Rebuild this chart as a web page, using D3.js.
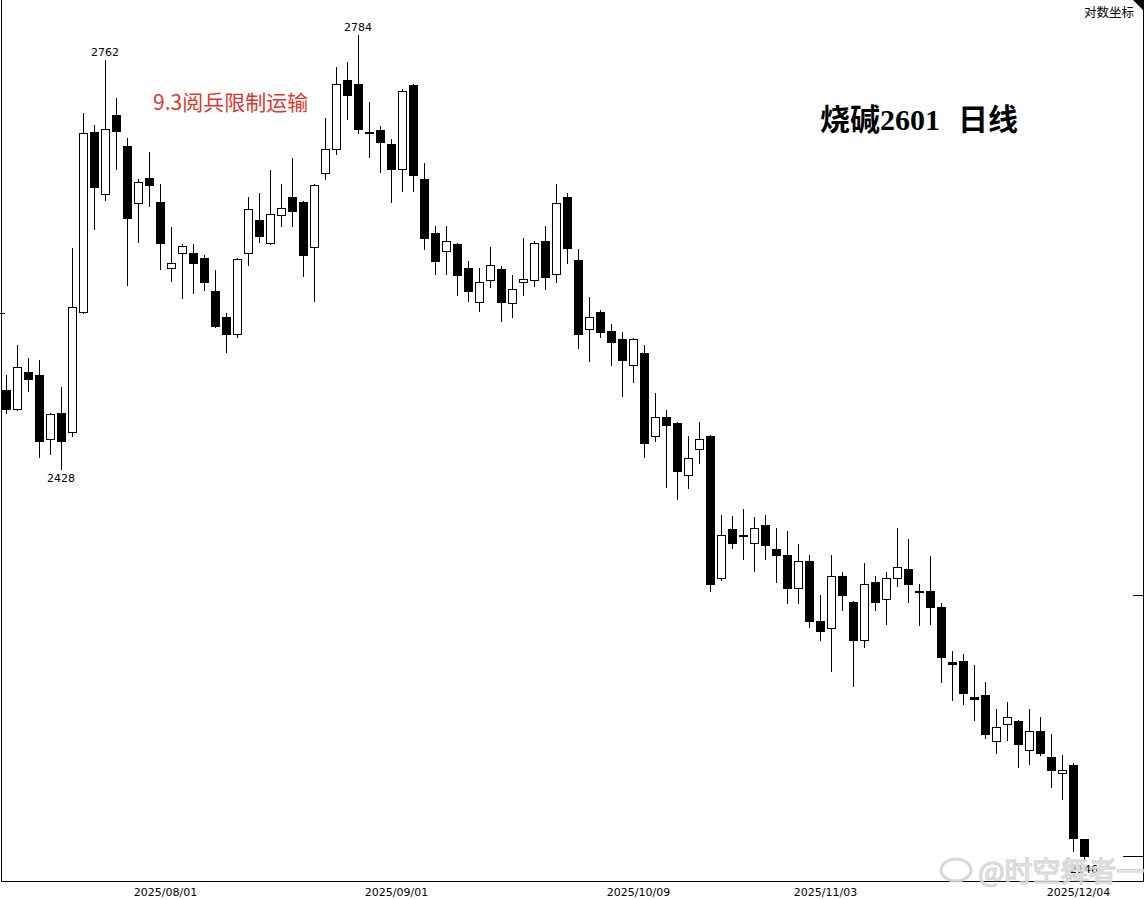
<!DOCTYPE html>
<html>
<head>
<meta charset="utf-8">
<script src="https://cdn.jsdelivr.net/npm/d3@7/dist/d3.min.js"></script>
<style>
  html, body { margin: 0; padding: 0; background: #fff; }
  svg { display: block; }
</style>
</head>
<body>
<div id="chart"></div>
<script>
// ---- data ----
const openP  = [2489,2474,2503,2501,2451,2471,2456,2551,2700,2648,2715,2688,2640,2661,2641,2587,2599,2599,2595,2568,
                2547,2533,2599,2626,2607,2630,2645,2641,2604,2665,2686,2745,2741,2700,2702,2690,2669,2740,2660,2615,
                2601,2606,2587,2559,2577,2586,2558,2575,2577,2609,2582,2645,2593,2537,2551,2536,2529,2509,2518,2453,
                2468,2463,2423,2443,2453,2346,2382,2378,2372,2385,2367,2363,2338,2358,2314,2309,2347,2328,2300,2343,
                2330,2346,2352,2336,2336,2324,2284,2285,2259,2261,2228,2240,2242,2222,2235,2217,2206,2211,2160];
const highP  = [2501,2525,2514,2513,2471,2491,2603,2716,2706,2762,2729,2695,2660,2683,2656,2620,2606,2606,2597,2585,
                2550,2595,2645,2649,2668,2656,2678,2642,2656,2712,2756,2760,2784,2726,2705,2694,2737,2741,2674,2621,
                2621,2607,2592,2587,2604,2588,2581,2611,2609,2621,2656,2649,2602,2563,2553,2541,2535,2530,2525,2487,
                2473,2464,2453,2464,2454,2393,2392,2397,2391,2393,2383,2381,2371,2363,2333,2363,2350,2329,2357,2347,
                2350,2383,2375,2341,2362,2327,2292,2290,2282,2270,2251,2256,2243,2251,2245,2233,2218,2213,2160];
const lowP   = [2471,2473,2488,2437,2439,2428,2453,2550,2619,2643,2669,2573,2608,2638,2586,2576,2562,2566,2569,2539,
                2519,2531,2589,2608,2606,2621,2621,2580,2560,2660,2681,2711,2699,2679,2666,2641,2650,2650,2602,2582,
                2582,2565,2560,2552,2571,2544,2547,2565,2572,2570,2575,2591,2522,2512,2531,2509,2484,2495,2437,2449,
                2414,2405,2413,2432,2336,2344,2368,2360,2351,2360,2343,2327,2327,2310,2300,2278,2322,2267,2295,2322,
                2312,2340,2328,2311,2312,2270,2257,2254,2243,2230,2220,2229,2210,2212,2218,2196,2188,2152,2146];
const closeP = [2474,2507,2498,2449,2470,2449,2555,2699,2654,2703,2701,2628,2658,2655,2607,2591,2605,2591,2575,2540,
                2533,2594,2635,2613,2631,2636,2634,2597,2655,2686,2741,2732,2703,2699,2692,2669,2735,2664,2611,2592,
                2609,2581,2568,2575,2589,2559,2570,2578,2607,2579,2640,2603,2533,2547,2535,2527,2513,2529,2448,2468,
                2462,2426,2436,2451,2341,2378,2372,2377,2383,2370,2363,2338,2358,2314,2307,2347,2333,2300,2341,2328,
                2346,2354,2341,2335,2324,2288,2283,2262,2258,2233,2238,2245,2226,2235,2220,2208,2208,2161,2149];

// date axis labels (trading-day index of the labelled bar)
const tickIndex  = [15, 36, 58, 75, 98];
const tickLabels = ["2025/08/01", "2025/09/01", "2025/10/09", "2025/11/03", "2025/12/04"];

// price-axis tick marks seen on the frame edges
const leftTicks  = [2550];
const rightTicks = [2333];

// marked extremes
const highMarks = [9, 32];
const lowMarks  = [5, 98];

const titleMain = "烧碱2601";
const titleSub  = "日线";
const noteText  = "9.3阅兵限制运输";
const scaleText = "对数坐标";
const watermark = "@时空舞者一";

// ---- drawing ----
const W = 1146, H = 899;
const n = openP.length;
const svg = d3.select("#chart").append("svg").attr("width", W).attr("height", H);

const plotRight = 1143, plotBottom = 881;

const x = d3.scaleBand().domain(d3.range(n)).range([0.5, 0.5 + 11 * n]).paddingInner(0.2).paddingOuter(0.1);
const step = x.step();
const cxOf = i => Math.round(x(i) + x.bandwidth() / 2);

const y = d3.scaleLog().domain([2146, 2784]).range([860, 35]);

// frame
svg.append("line").attr("x1", 1.5).attr("x2", 1.5).attr("y1", 0).attr("y2", plotBottom + 0.5)
  .attr("stroke", "#000").attr("stroke-width", 1);
svg.append("line").attr("x1", plotRight + 0.5).attr("x2", plotRight + 0.5).attr("y1", 0).attr("y2", plotBottom + 0.5)
  .attr("stroke", "#000").attr("stroke-width", 1);
svg.append("line").attr("x1", 1).attr("x2", plotRight + 1).attr("y1", plotBottom + 0.5).attr("y2", plotBottom + 0.5)
  .attr("stroke", "#000").attr("stroke-width", 1);

// edge ticks
svg.selectAll("line.lt").data(leftTicks).join("line").attr("class", "lt")
  .attr("x1", 0).attr("x2", 5).attr("y1", d => Math.round(y(d)) + 0.5).attr("y2", d => Math.round(y(d)) + 0.5)
  .attr("stroke", "#000");
svg.selectAll("line.rt").data(rightTicks).join("line").attr("class", "rt")
  .attr("x1", plotRight - 10).attr("x2", plotRight).attr("y1", d => Math.round(y(d)) + 0.5).attr("y2", d => Math.round(y(d)) + 0.5)
  .attr("stroke", "#000");

// corner triangle
svg.append("path").attr("d", `M${plotRight - 10},0 L${plotRight + 1},0 L${plotRight + 1},11 Z`).attr("fill", "#000");

// last price marker on right edge
svg.append("line").attr("x1", plotRight - 20).attr("x2", plotRight).attr("y1", Math.round(y(closeP[n - 1])) + 0.5)
  .attr("y2", Math.round(y(closeP[n - 1])) + 0.5).attr("stroke", "#000");

// candles
const g = svg.append("g").attr("shape-rendering", "crispEdges");
const idx = d3.range(n);
g.selectAll("line.wick").data(idx).join("line").attr("class", "wick")
  .attr("x1", i => cxOf(i) + 0.5).attr("x2", i => cxOf(i) + 0.5)
  .attr("y1", i => Math.round(y(highP[i]))).attr("y2", i => Math.round(y(lowP[i])) + 1)
  .attr("stroke", "#000").attr("stroke-width", 1);
g.selectAll("rect.body").data(idx).join("rect").attr("class", "body")
  .attr("x", i => cxOf(i) - 3.5)
  .attr("width", 8)
  .attr("y", i => Math.round(y(Math.max(openP[i], closeP[i]))) + 0.5)
  .attr("height", i => Math.max(1, Math.round(y(Math.min(openP[i], closeP[i]))) - Math.round(y(Math.max(openP[i], closeP[i])))))
  .attr("fill", i => closeP[i] > openP[i] ? "#fff" : "#000")
  .attr("stroke", "#000").attr("stroke-width", 1);

// extreme labels
const lblFont = "'DejaVu Sans', Verdana, sans-serif";
svg.selectAll("text.hi").data(highMarks).join("text").attr("class", "hi")
  .attr("x", i => cxOf(i)).attr("y", i => y(highP[i]) - 4)
  .attr("text-anchor", "middle").attr("font-family", lblFont).attr("font-size", 11).attr("fill", "#000")
  .text(i => highP[i]);
svg.selectAll("text.lo").data(lowMarks).join("text").attr("class", "lo")
  .attr("x", i => cxOf(i)).attr("y", i => y(lowP[i]) + 13)
  .attr("text-anchor", "middle").attr("font-family", lblFont).attr("font-size", 11).attr("fill", "#000")
  .text(i => lowP[i]);

// date axis
svg.selectAll("text.date").data(tickIndex).join("text").attr("class", "date")
  .attr("x", (d) => x(d) - step * 0.1).attr("y", 896)
  .attr("text-anchor", "middle").attr("font-family", lblFont).attr("font-size", 11).attr("fill", "#000")
  .text((d, k) => tickLabels[k]);

// log-scale tag
svg.append("text").attr("x", 1134).attr("y", 17).attr("text-anchor", "end")
  .attr("font-family", "'Noto Sans CJK SC', sans-serif").attr("font-size", 12.5).attr("fill", "#000").text(scaleText);

// annotation
svg.append("text").attr("x", 153).attr("y", 110)
  .attr("font-family", "'Noto Sans CJK SC', sans-serif").attr("font-size", 21).attr("fill", "#e0362c").text(noteText);

// title
const tf = "'Liberation Serif', 'Noto Sans CJK SC', serif";
svg.append("text").attr("x", 820).attr("y", 130)
  .attr("font-family", tf).attr("font-weight", "bold").attr("font-size", 30).attr("fill", "#000").text(titleMain);
svg.append("text").attr("x", 1018).attr("y", 130).attr("text-anchor", "end")
  .attr("font-family", tf).attr("font-weight", "bold").attr("font-size", 30).attr("fill", "#000").text(titleSub);

// watermark
const wm = svg.append("g").attr("opacity", 0.9);
wm.append("ellipse").attr("cx", 956).attr("cy", 870).attr("rx", 15).attr("ry", 11)
  .attr("fill", "none").attr("stroke", "#d4d4d4").attr("stroke-width", 3);
wm.append("text").attr("x", 978).attr("y", 882)
  .attr("font-family", "'Noto Sans CJK SC', sans-serif").attr("font-size", 28)
  .attr("fill", "#eeeeee").attr("stroke", "#cfcfcf").attr("stroke-width", 1.2).text(watermark);
</script>
</body>
</html>
